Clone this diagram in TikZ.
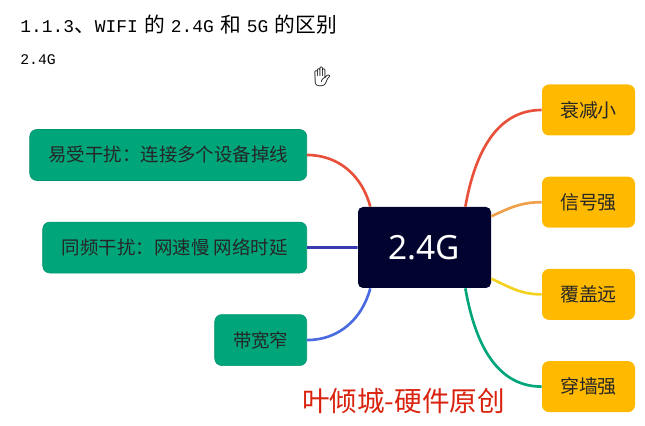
\documentclass[tikz,border=0pt]{standalone}
\usepackage{fontspec}
\setmainfont{Liberation Mono}
\newfontfamily\cjk{Noto Sans CJK SC}
\newfontfamily\hubfont{Noto Sans}
\newfontfamily\emojifont{Noto Emoji}
\usetikzlibrary{positioning}
\definecolor{hubblue}{HTML}{02032E}
\definecolor{leafgreen}{HTML}{00A57A}
\definecolor{leafgold}{HTML}{FFBA00}
\definecolor{markred}{HTML}{D9230F}
\definecolor{linkred}{HTML}{E8503A}
\definecolor{linkorange}{HTML}{F0A04A}
\definecolor{linkyellow}{HTML}{F2D21E}
\definecolor{linknavy}{HTML}{3A3AB0}
\definecolor{linkblue}{HTML}{4A6AE0}
\newcommand{\tcjk}[1]{{\cjk\fontsize{11.8}{12}\selectfont #1}}
\newcommand{\widecolon}{\char"FF1A\relax}

\begin{document}
\begin{tikzpicture}[
    hub/.style={rectangle, fill=hubblue, text=white, rounded corners=0.1cm, minimum width=2.66cm, minimum height=1.62cm, font=\hubfont\fontsize{19}{22}\selectfont},
    badbox/.style={rectangle, draw=leafgreen!90!black, line width=0.3pt, fill=leafgreen, text=black!85, rounded corners=0.14cm, minimum height=1.02cm, font=\cjk\fontsize{10.5}{13}\selectfont},
    goodbox/.style={rectangle, fill=leafgold, text=black!85, rounded corners=0.14cm, minimum width=1.86cm, minimum height=1.02cm, font=\cjk\fontsize{10.8}{13}\selectfont},
    link/.style={line width=1.5pt}
]
\useasboundingbox (0,0) rectangle (12.9,8.52);

% Heading
\node[anchor=west, inner sep=0pt, font=\fontsize{10.2}{12}\selectfont] (title) at (0.4,8.03) {1.1.3\tcjk{、}WIFI\hspace{3.5pt}\tcjk{的}\hspace{3.5pt}2.4G\hspace{3.5pt}\tcjk{和}\hspace{3.5pt}5G\hspace{3.5pt}\tcjk{的区别}};
\node[anchor=west, inner sep=0pt, font=\fontsize{8.4}{10}\selectfont] (sub) at (0.4,7.32) {2.4G};
\node[inner sep=0pt, font=\emojifont\fontsize{11}{12}\selectfont] (cursor) at (6.45,6.98) {✋};

% Centre
\node[hub] (center) at (8.49,3.57) {2.4G};

% Right column
\node[goodbox] (shrink) at (11.77,6.32) {衰减小};
\node[goodbox, below=0.81cm of shrink] (signal) {信号强};
\node[goodbox, below=0.81cm of signal] (cover) {覆盖远};
\node[goodbox, below=0.81cm of cover] (wall) {穿墙强};

% Left column
\node[badbox, anchor=east, minimum width=5.54cm] (noise) at (6.14,5.42) {易受干扰\widecolon 连接多个设备掉线};
\node[badbox, minimum width=5.28cm, below=0.82cm of noise.south east, anchor=north east] (samefreq) {同频干扰\widecolon 网速慢 网络时延};
\node[badbox, minimum width=1.84cm, below=0.82cm of samefreq.south east, anchor=north east] (narrow) {带宽窄};

% Branches
\draw[link, color=linkred] (center.45) to[out=80, in=180] (shrink.west);
\draw[link, color=linkorange] (center.25) to[out=25, in=180] (signal.west);
\draw[link, color=linkyellow] (center.-25) to[out=-25, in=180] (cover.west);
\draw[link, color=leafgreen] (center.-45) to[out=-80, in=180] (wall.west);
\draw[link, color=linkred] (center.143) to[out=105, in=0] (noise.east);
\draw[link, color=linknavy] (center.west) -- (samefreq.east);
\draw[link, color=linkblue] (center.-143) to[out=-105, in=0] (narrow.east);

% Watermark
\node[inner sep=0pt, text=markred, font=\cjk\fontsize{15.7}{20}\selectfont] (mark) at (8.07,0.5) {叶倾城-硬件原创};
\end{tikzpicture}
\end{document}
